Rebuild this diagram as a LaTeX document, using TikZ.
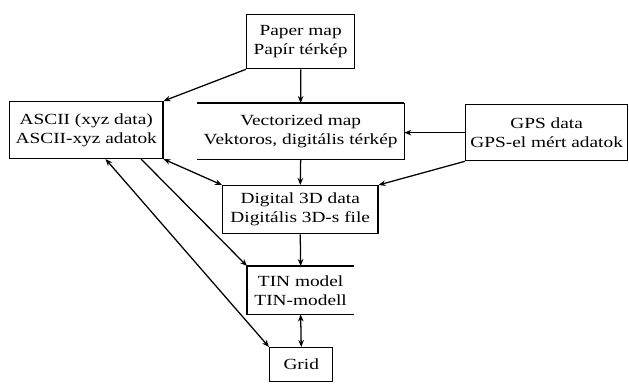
\documentclass[tikz,border=0pt]{standalone}
\usepackage{fontspec}
\setmainfont{Liberation Serif}[FakeStretch=1.25]
\usepackage{tikz}
\usetikzlibrary{arrows.meta, calc, positioning}

\tikzset{
	box/.style={draw, line width=0.9pt, align=center, inner sep=1pt, font=\fontsize{11}{13.5}\selectfont},
	openbox/.style={box, draw=none},
	rule/.style={line width=0.9pt},
	link/.style={line width=0.9pt, -{Stealth[length=5pt,width=4pt]}},
	both/.style={line width=0.9pt, {Stealth[length=5pt,width=4pt]}-{Stealth[length=5pt,width=4pt]}}
}

\begin{document}
\begin{tikzpicture}[x=0.025cm, y=-0.025cm]
		\useasboundingbox (0,0) rectangle (629,383);
		
		%----------------------------------------------------------------
		\node(paper) [box, anchor=north west, minimum width=2.7cm, minimum height=1.35cm] at (246,14) {Paper map \\ Papír térkép};
		
		\node(ascii) [box, anchor=north west, minimum width=3.83cm, minimum height=1.42cm] at (9,101) {ASCII (xyz data) \\ ASCII-xyz adatok};
		\node(vector) [openbox, anchor=north west, minimum width=5.15cm, minimum height=1.38cm] at (197,103) {Vectorized map \\ Vektoros, digitális térkép};
		\node(gps) [box, anchor=north west, minimum width=4.05cm, minimum height=1.4cm] at (465,104) {GPS data \\ GPS-el mért adatok};
		
		% vectorized map: heavy top rule, no left side
		\draw [line width=1.6pt] (vector.north west) -- (vector.north east);
		\draw [rule] (vector.north east) -- (vector.south east) -- (vector.south west);
		
		%----------------------------------------------------------------
		\node(digital) [box, anchor=north west, minimum width=3.88cm, minimum height=1.2cm] at (222,185) {Digital 3D data \\ Digitális 3D-s file};
		\node(tin) [openbox, anchor=north west, minimum width=2.65cm, minimum height=1.18cm] at (247,266) {TIN model \\ TIN-modell};
		\node(grid) [box, anchor=north west, minimum width=1.58cm, minimum height=0.85cm] at (269,347) {Grid};
		
		% TIN model: no right side
		\draw [rule] (tin.north east) -- (tin.north west) -- (tin.south west) -- (tin.south east);
		
		%----------------------------------------------------------------
		\draw [link] (paper.south west) -- (ascii.north east);
		\draw [link] (paper.south) -- (vector.north);
		\draw [link] (gps.west) -- (gps.west -| vector.east);
		\draw [link] (gps.south west) -- (digital.north east);
		\draw [link] (vector.south) -- (digital.north);
		\draw [both] (ascii.south east) -- (digital.north west);
		\draw [link] (digital.south) -- (tin.north);
		\draw [link] ($(ascii.south)!0.71!(ascii.south east)$) -- (tin.north west);
		\draw [both] ($(ascii.south)!0.25!(ascii.south east)$) -- (grid.north west);
		\draw [both] (tin.south) -- (grid.north);
		
	\end{tikzpicture}
\end{document}
